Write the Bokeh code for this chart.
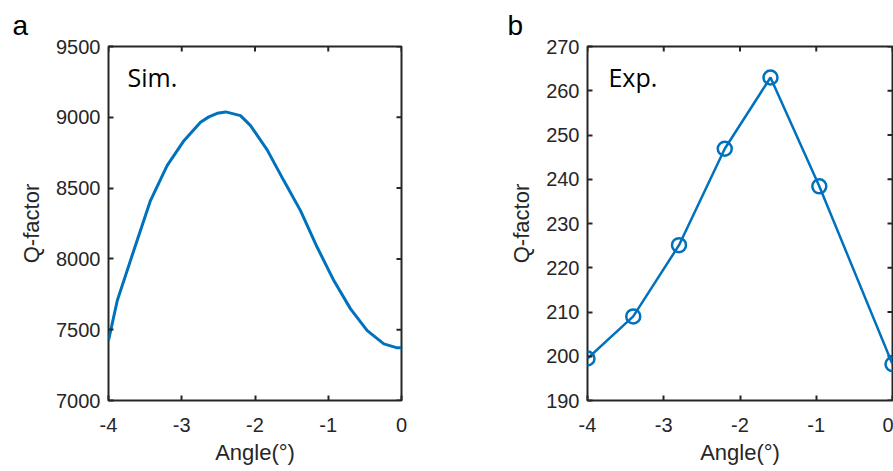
import math
from bokeh.plotting import figure
from bokeh.layouts import row
from bokeh.models import Range1d, FixedTicker, Label, Title
from bokeh.embed import file_html
from bokeh.resources import INLINE

# ---- data ----
sim_angle = [-4.0, -3.88, -3.768, -3.655, -3.427, -3.2, -2.97, -2.744, -2.63, -2.516,
             -2.40, -2.198, -2.061, -1.834, -1.607, -1.379, -1.151, -0.924,
             -0.696, -0.468, -0.241, -0.059, 0.0]
sim_q = [7424, 7706, 7882, 8059, 8412, 8659, 8835, 8965, 9003, 9028,
         9038, 9012, 8941, 8770, 8553, 8341, 8082, 7847,
         7647, 7494, 7400, 7372, 7372]

exp_angle = [-4.0, -3.4, -2.8, -2.2, -1.6, -0.96, 0.0]
exp_q = [199.5, 209.0, 225.1, 246.9, 263.0, 238.4, 198.2]

x_ticks = [-4, -3, -2, -1, 0]
sim_y_ticks = [7000, 7500, 8000, 8500, 9000, 9500]
exp_y_ticks = [190, 200, 210, 220, 230, 240, 250, 260, 270]

BLUE = "#0072BD"
AX = "#262626"
TICK_FONT = "Liberation Sans"


def style(p, yticks, panel, offset):
    p.xgrid.visible = False
    p.ygrid.visible = False
    p.outline_line_color = AX
    p.outline_line_width = 2
    p.background_fill_color = "white"
    p.border_fill_color = "white"
    p.xaxis.ticker = FixedTicker(ticks=x_ticks)
    p.yaxis.ticker = FixedTicker(ticks=yticks)
    p.xaxis.major_label_overrides = {t: str(t) for t in x_ticks}
    p.yaxis.major_label_overrides = {t: str(t) for t in yticks}
    for ax in (p.xaxis[0], p.yaxis[0]):
        ax.axis_line_color = None
        ax.major_tick_in = 5
        ax.major_tick_out = 0
        ax.minor_tick_line_color = None
        ax.major_tick_line_color = AX
        ax.major_tick_line_width = 2
        ax.major_label_text_font = TICK_FONT
        ax.major_label_text_font_size = "20px"
        ax.major_label_text_color = AX
        ax.axis_label_text_font = TICK_FONT
        ax.axis_label_text_font_size = "22px"
        ax.axis_label_text_font_style = "normal"
        ax.axis_label_text_color = AX
    p.xaxis.major_label_standoff = 17
    p.xaxis.axis_label_standoff = 5
    p.yaxis.major_label_standoff = 8
    p.yaxis.axis_label_standoff = 9
    # mirrored inward ticks on the top and right frame edges (outer half is clipped)
    p.scatter(x=x_ticks, y=[yticks[-1]] * len(x_ticks), marker="dash", angle=math.pi / 2,
              size=10, line_color=AX, line_width=2)
    p.scatter(x=[x_ticks[-1]] * len(yticks), y=yticks, marker="dash", angle=0,
              size=10, line_color=AX, line_width=2)
    p.title = Title(text=panel, align="left", offset=offset, text_font=TICK_FONT,
                    text_font_size="28px", text_font_style="normal", text_color="black",
                    standoff=12)


# ---- panel a ----
p1 = figure(width=480, height=471, x_range=Range1d(-4, 0), y_range=Range1d(7000, 9500),
            output_backend="svg", toolbar_location=None,
            min_border_left=108, min_border_right=79, min_border_top=46, min_border_bottom=71,
            x_axis_label="Angle(°)", y_axis_label="Q-factor")
style(p1, sim_y_ticks, "a", -96)
p1.line(sim_angle, sim_q, line_color=BLUE, line_width=3)
p1.add_layout(Label(x=-3.74, y=9285, text="Sim.", text_font="Open Sans",
                    text_font_size="25px", text_color="black", text_baseline="alphabetic"))

# ---- panel b ----
p2 = figure(width=413, height=471, x_range=Range1d(-4, 0), y_range=Range1d(190, 270),
            output_backend="svg", toolbar_location=None,
            min_border_left=107, min_border_right=1, min_border_top=46, min_border_bottom=71,
            x_axis_label="Angle(°)", y_axis_label="Q-factor")
style(p2, exp_y_ticks, "b", -80)
p2.line(exp_angle, exp_q, line_color=BLUE, line_width=2.5)
p2.scatter(exp_angle, exp_q, marker="circle", size=14, line_color=BLUE, line_width=2.5,
           fill_alpha=0)
p2.add_layout(Label(x=-3.725, y=263.0, text="Exp.", text_font="Open Sans",
                    text_font_size="25px", text_color="black", text_baseline="alphabetic"))

layout = row(p1, p2)
open("out.html", "w").write(file_html(layout, INLINE))
